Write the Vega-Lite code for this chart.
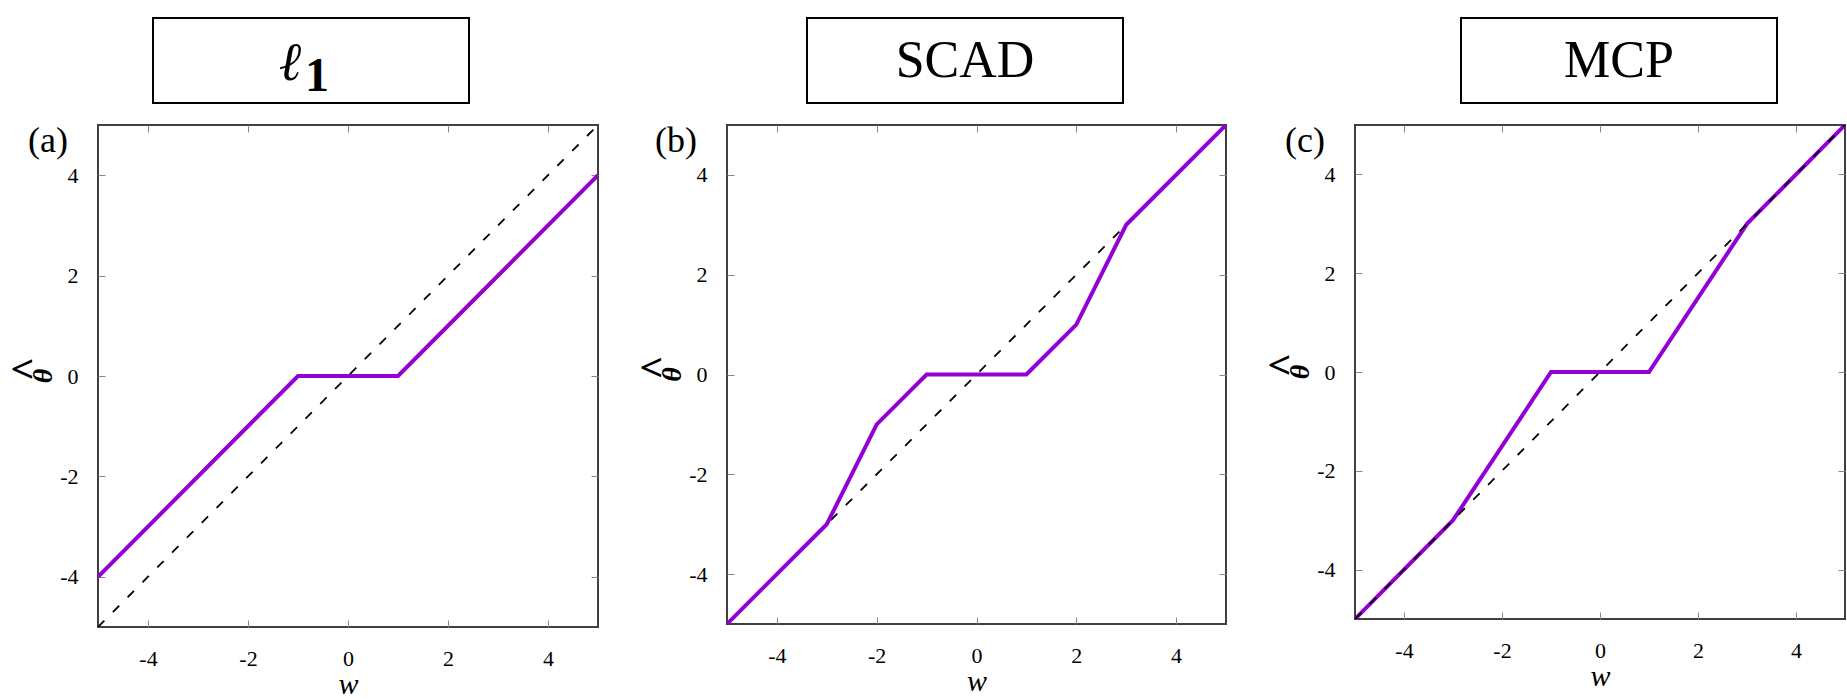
{
  "$schema": "https://vega.github.io/schema/vega-lite/v6.json",
  "background": "white",
  "padding": {"left": 5, "top": 17, "right": 0, "bottom": 0},
  "config": {
    "view": {"stroke": null},
    "font": "Liberation Serif",
    "axis": {
      "domain": false,
      "grid": false,
      "tickSize": -7,
      "tickColor": "#888888",
      "tickWidth": 1,
      "labelFont": "Liberation Serif",
      "labelFontSize": 22,
      "labelColor": "#000000",
      "titleFont": "Liberation Serif",
      "titleColor": "#000000"
    },
    "axisBottom": {"labelPadding": 28},
    "axisLeft": {"labelPadding": 27}
  },
  "datasets": {
    "diag": [{"w": -5, "theta": -5}, {"w": 5, "theta": 5}],
    "l1": [{"w": -5, "theta": -4}, {"w": -1, "theta": 0}, {"w": 1, "theta": 0}, {"w": 5, "theta": 4}],
    "scad": [{"w": -5, "theta": -5}, {"w": -3, "theta": -3}, {"w": -2, "theta": -1}, {"w": -1, "theta": 0}, {"w": 1, "theta": 0}, {"w": 2, "theta": 1}, {"w": 3, "theta": 3}, {"w": 5, "theta": 5}],
    "mcp": [{"w": -5, "theta": -5}, {"w": -3, "theta": -3}, {"w": -1, "theta": 0}, {"w": 1, "theta": 0}, {"w": 3, "theta": 3}, {"w": 5, "theta": 5}],
    "ylab": [{"s": "θ"}],
    "yhat": [{"s": "^"}]
  },
  "spacing": 18,
  "vconcat": [
    {
      "spacing": 0,
      "hconcat": [
        {"width": 54, "height": 85, "data": {"values": [{}]}, "mark": {"type": "text", "text": ""}},
        {
          "width": 316, "height": 85,
          "view": {"stroke": "black", "strokeWidth": 2},
          "data": {"values": [{"name": "ℓ", "sub": "1"}]},
          "layer": [
            {"mark": {"type": "text", "font": "Liberation Serif", "fontSize": 54, "fontStyle": "italic", "baseline": "alphabetic", "dx": -21, "dy": 19}, "encoding": {"text": {"field": "name"}}},
            {"mark": {"type": "text", "font": "Liberation Serif", "fontSize": 48, "fontWeight": "bold", "baseline": "alphabetic", "dx": 6, "dy": 30}, "encoding": {"text": {"field": "sub"}}}
          ]
        },
        {"width": 336, "height": 85, "data": {"values": [{}]}, "mark": {"type": "text", "text": ""}},
        {
          "width": 316, "height": 85,
          "view": {"stroke": "black", "strokeWidth": 2},
          "data": {"values": [{"name": "SCAD"}]},
          "mark": {"type": "text", "font": "Liberation Serif", "fontSize": 52, "baseline": "middle"},
          "encoding": {"text": {"field": "name"}}
        },
        {"width": 336, "height": 85, "data": {"values": [{}]}, "mark": {"type": "text", "text": ""}},
        {
          "width": 316, "height": 85,
          "view": {"stroke": "black", "strokeWidth": 2},
          "data": {"values": [{"name": "MCP"}]},
          "mark": {"type": "text", "font": "Liberation Serif", "fontSize": 52, "baseline": "middle"},
          "encoding": {"text": {"field": "name"}}
        }
      ]
    },
    {
      "spacing": 34,
      "hconcat": [
        {
          "width": 500, "height": 502,
          "view": {"stroke": "#404040", "strokeWidth": 2},
          "layer": [
            {
              "data": {"name": "diag"},
              "mark": {"type": "line", "color": "black", "strokeWidth": 1.8, "strokeDash": [9, 12], "clip": true},
              "encoding": {
                "x": {"field": "w", "type": "quantitative", "scale": {"domain": [-5, 5], "nice": false, "zero": false},
                      "axis": {"orient": "bottom", "title": "w", "values": [-4, -2, 0, 2, 4], "labelExpr": "toString(datum.value)", "labelFont": "Liberation Serif", "labelFontSize": 22, "labelColor": "#000000", "titleFont": "Liberation Serif", "titleFontStyle": "italic", "titleFontWeight": "normal", "titleFontSize": 30, "titlePadding": 0}},
                "y": {"field": "theta", "type": "quantitative", "scale": {"domain": [-5, 5], "nice": false, "zero": false},
                      "axis": {"orient": "left", "title": null, "values": [-4, -2, 0, 2, 4], "labelExpr": "toString(datum.value)", "labelFont": "Liberation Serif", "labelFontSize": 22, "labelColor": "#000000"}}
              }
            },
            {
              "data": {"name": "l1"},
              "mark": {"type": "line", "color": "#9400D3", "strokeWidth": 4, "clip": true},
              "encoding": {
                "x": {"field": "w", "type": "quantitative", "axis": {"orient": "top", "labels": false, "title": null, "values": [-4, -2, 0, 2, 4]}},
                "y": {"field": "theta", "type": "quantitative", "axis": {"orient": "right", "labels": false, "title": null, "values": [-4, -2, 0, 2, 4]}}
              }
            },
            {
              "data": {"values": [{"lab": "(a)"}]},
              "mark": {"type": "text", "font": "Liberation Serif", "fontSize": 36, "align": "right", "baseline": "alphabetic", "dx": -30, "dy": 27},
              "encoding": {"x": {"datum": -5, "type": "quantitative", "axis": null}, "y": {"datum": 5, "type": "quantitative", "axis": null}, "text": {"field": "lab"}}
            },
            {
              "data": {"name": "ylab"},
              "mark": {"type": "text", "font": "Liberation Serif", "fontSize": 28, "fontWeight": "bold", "fontStyle": "italic", "angle": 270, "align": "center", "baseline": "alphabetic", "dx": 0, "dy": -46},
              "encoding": {"x": {"datum": -5, "type": "quantitative", "axis": null}, "y": {"datum": 0, "type": "quantitative", "axis": null}, "text": {"field": "s"}}
            },
            {
              "data": {"name": "yhat"},
              "mark": {"type": "text", "font": "Liberation Serif", "fontSize": 42, "fontWeight": "bold", "angle": 270, "align": "center", "baseline": "alphabetic", "dx": 7, "dy": -58},
              "encoding": {"x": {"datum": -5, "type": "quantitative", "axis": null}, "y": {"datum": 0, "type": "quantitative", "axis": null}, "text": {"field": "s"}}
            }
          ],
          "resolve": {"axis": {"x": "independent", "y": "independent"}}
        },
        {
          "width": 499, "height": 499,
          "view": {"stroke": "#404040", "strokeWidth": 2},
          "layer": [
            {
              "data": {"name": "diag"},
              "mark": {"type": "line", "color": "black", "strokeWidth": 1.8, "strokeDash": [9, 12], "clip": true},
              "encoding": {
                "x": {"field": "w", "type": "quantitative", "scale": {"domain": [-5, 5], "nice": false, "zero": false},
                      "axis": {"orient": "bottom", "title": "w", "values": [-4, -2, 0, 2, 4], "labelExpr": "toString(datum.value)", "labelFont": "Liberation Serif", "labelFontSize": 22, "labelColor": "#000000", "titleFont": "Liberation Serif", "titleFontStyle": "italic", "titleFontWeight": "normal", "titleFontSize": 30, "titlePadding": 0}},
                "y": {"field": "theta", "type": "quantitative", "scale": {"domain": [-5, 5], "nice": false, "zero": false},
                      "axis": {"orient": "left", "title": null, "values": [-4, -2, 0, 2, 4], "labelExpr": "toString(datum.value)", "labelFont": "Liberation Serif", "labelFontSize": 22, "labelColor": "#000000"}}
              }
            },
            {
              "data": {"name": "scad"},
              "mark": {"type": "line", "color": "#9400D3", "strokeWidth": 4, "clip": true},
              "encoding": {
                "x": {"field": "w", "type": "quantitative", "axis": {"orient": "top", "labels": false, "title": null, "values": [-4, -2, 0, 2, 4]}},
                "y": {"field": "theta", "type": "quantitative", "axis": {"orient": "right", "labels": false, "title": null, "values": [-4, -2, 0, 2, 4]}}
              }
            },
            {
              "data": {"values": [{"lab": "(b)"}]},
              "mark": {"type": "text", "font": "Liberation Serif", "fontSize": 36, "align": "right", "baseline": "alphabetic", "dx": -30, "dy": 27},
              "encoding": {"x": {"datum": -5, "type": "quantitative", "axis": null}, "y": {"datum": 5, "type": "quantitative", "axis": null}, "text": {"field": "lab"}}
            },
            {
              "data": {"name": "ylab"},
              "mark": {"type": "text", "font": "Liberation Serif", "fontSize": 28, "fontWeight": "bold", "fontStyle": "italic", "angle": 270, "align": "center", "baseline": "alphabetic", "dx": 0, "dy": -46},
              "encoding": {"x": {"datum": -5, "type": "quantitative", "axis": null}, "y": {"datum": 0, "type": "quantitative", "axis": null}, "text": {"field": "s"}}
            },
            {
              "data": {"name": "yhat"},
              "mark": {"type": "text", "font": "Liberation Serif", "fontSize": 42, "fontWeight": "bold", "angle": 270, "align": "center", "baseline": "alphabetic", "dx": 7, "dy": -58},
              "encoding": {"x": {"datum": -5, "type": "quantitative", "axis": null}, "y": {"datum": 0, "type": "quantitative", "axis": null}, "text": {"field": "s"}}
            }
          ],
          "resolve": {"axis": {"x": "independent", "y": "independent"}}
        },
        {
          "width": 490, "height": 494,
          "view": {"stroke": "#404040", "strokeWidth": 2},
          "layer": [
            {
              "data": {"name": "mcp"},
              "mark": {"type": "line", "color": "#9400D3", "strokeWidth": 4, "clip": true},
              "encoding": {
                "x": {"field": "w", "type": "quantitative", "scale": {"domain": [-5, 5], "nice": false, "zero": false},
                      "axis": {"orient": "bottom", "title": "w", "values": [-4, -2, 0, 2, 4], "labelExpr": "toString(datum.value)", "labelFont": "Liberation Serif", "labelFontSize": 22, "labelColor": "#000000", "titleFont": "Liberation Serif", "titleFontStyle": "italic", "titleFontWeight": "normal", "titleFontSize": 30, "titlePadding": 0}},
                "y": {"field": "theta", "type": "quantitative", "scale": {"domain": [-5, 5], "nice": false, "zero": false},
                      "axis": {"orient": "left", "title": null, "values": [-4, -2, 0, 2, 4], "labelExpr": "toString(datum.value)", "labelFont": "Liberation Serif", "labelFontSize": 22, "labelColor": "#000000"}}
              }
            },
            {
              "data": {"name": "diag"},
              "mark": {"type": "line", "color": "black", "strokeWidth": 1.8, "strokeDash": [9, 12], "clip": true},
              "encoding": {
                "x": {"field": "w", "type": "quantitative", "axis": {"orient": "top", "labels": false, "title": null, "values": [-4, -2, 0, 2, 4]}},
                "y": {"field": "theta", "type": "quantitative", "axis": {"orient": "right", "labels": false, "title": null, "values": [-4, -2, 0, 2, 4]}}
              }
            },
            {
              "data": {"values": [{"lab": "(c)"}]},
              "mark": {"type": "text", "font": "Liberation Serif", "fontSize": 36, "align": "right", "baseline": "alphabetic", "dx": -30, "dy": 27},
              "encoding": {"x": {"datum": -5, "type": "quantitative", "axis": null}, "y": {"datum": 5, "type": "quantitative", "axis": null}, "text": {"field": "lab"}}
            },
            {
              "data": {"name": "ylab"},
              "mark": {"type": "text", "font": "Liberation Serif", "fontSize": 28, "fontWeight": "bold", "fontStyle": "italic", "angle": 270, "align": "center", "baseline": "alphabetic", "dx": 0, "dy": -46},
              "encoding": {"x": {"datum": -5, "type": "quantitative", "axis": null}, "y": {"datum": 0, "type": "quantitative", "axis": null}, "text": {"field": "s"}}
            },
            {
              "data": {"name": "yhat"},
              "mark": {"type": "text", "font": "Liberation Serif", "fontSize": 42, "fontWeight": "bold", "angle": 270, "align": "center", "baseline": "alphabetic", "dx": 7, "dy": -58},
              "encoding": {"x": {"datum": -5, "type": "quantitative", "axis": null}, "y": {"datum": 0, "type": "quantitative", "axis": null}, "text": {"field": "s"}}
            }
          ],
          "resolve": {"axis": {"x": "independent", "y": "independent"}}
        }
      ]
    }
  ]
}
